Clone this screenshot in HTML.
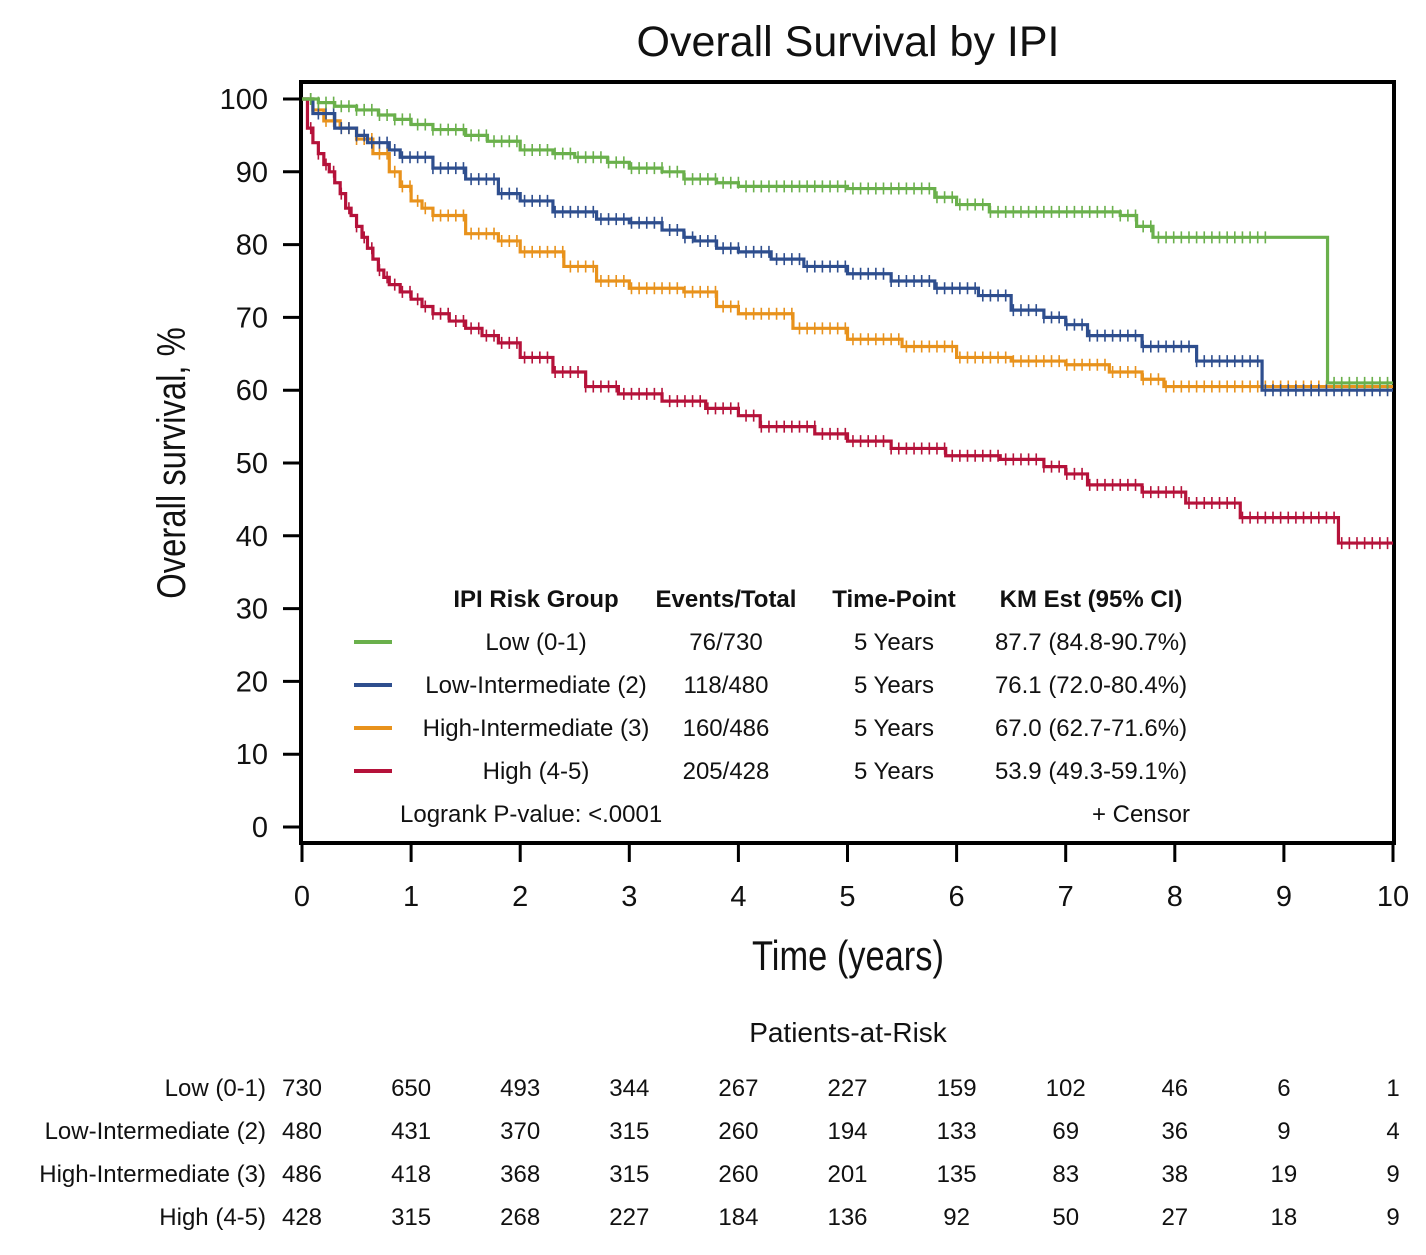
<!DOCTYPE html>
<html><head><meta charset="utf-8">
<style>
html,body{margin:0;padding:0;background:#fff;}
body{width:1426px;height:1250px;overflow:hidden;font-family:"Liberation Sans",sans-serif;}
svg text{font-family:"Liberation Sans",sans-serif;fill:#111;}
</style></head>
<body>
<svg id="chart" width="1426" height="1250" xmlns="http://www.w3.org/2000/svg">
<text x="848" y="56" font-size="43" text-anchor="middle">Overall Survival by IPI</text>
<rect x="301" y="82" width="1093" height="761" fill="none" stroke="#000" stroke-width="4"/>
<g id="axes"></g>
<g id="curves"></g>
<text transform="translate(185,463) rotate(-90) scale(0.82,1)" font-size="40" text-anchor="middle">Overall survival, %</text>
<text transform="translate(848,970) scale(0.82,1)" font-size="42" text-anchor="middle">Time (years)</text>
<g id="legend" font-size="24"></g>
<g id="risk" font-size="24"></g>
</svg>
<script>
const xTicks=[0,1,2,3,4,5,6,7,8,9,10];
const yTicks=[0,10,20,30,40,50,60,70,80,90,100];
const groupNames=["Low (0-1)","Low-Intermediate (2)","High-Intermediate (3)","High (4-5)"];
const groupColors=["#6ab04c","#2e4e8e","#e8921c","#b5123a"];
const eventsTotal=["76/730","118/480","160/486","205/428"];
const kmEst=["87.7 (84.8-90.7%)","76.1 (72.0-80.4%)","67.0 (62.7-71.6%)","53.9 (49.3-59.1%)"];
const lowT=[0,0.15,0.3,0.5,0.7,0.85,1,1.2,1.5,1.7,2,2.3,2.5,2.8,3,3.3,3.5,3.8,4,5,5.8,6,6.3,7.5,7.65,7.8,9.4,10];
const lowS=[100,99.5,99,98.5,97.8,97.2,96.5,95.8,95,94.2,93,92.5,92,91.3,90.5,90,89,88.5,88,87.7,86.5,85.5,84.5,84,82.5,81,61,61];
const liT=[0,0.1,0.3,0.5,0.6,0.8,0.9,1.2,1.5,1.8,2,2.3,2.7,3,3.3,3.5,3.6,3.8,4,4.3,4.6,5,5.4,5.8,6.2,6.5,6.8,7,7.2,7.7,8.2,8.8,10];
const liS=[100,98,96,95,94,93,92,90.5,89,87,86,84.5,83.5,83,82,81,80.5,79.5,79,78,77,76,75,74,73,71,70,69,67.5,66,64,60,60];
const hiT=[0,0.1,0.2,0.35,0.5,0.65,0.8,0.9,1,1.1,1.2,1.5,1.8,2,2.4,2.7,3,3.5,3.8,4,4.5,5,5.5,6,6.5,7,7.4,7.7,7.9,10];
const hiS=[100,98.5,97,96,94.5,92.5,90,88,86,85,84,81.5,80.5,79,77,75,74,73.5,71.5,70.5,68.5,67,66,64.5,64,63.5,62.5,61.5,60.5,60.5];
const hT=[0,0.05,0.1,0.15,0.2,0.25,0.3,0.35,0.4,0.45,0.5,0.55,0.6,0.65,0.7,0.75,0.8,0.9,1,1.1,1.2,1.35,1.5,1.65,1.8,2,2.3,2.6,2.9,3.3,3.7,4,4.2,4.7,5,5.4,5.9,6.4,6.8,7,7.2,7.7,8.1,8.6,9.5,10];
const hS=[100,96,94,92.5,91,90,88.5,87,85,84,82.5,81,79.5,78,76.5,75.5,74.5,73.5,72.5,71.5,70.5,69.5,68.5,67.5,66.5,64.5,62.5,60.5,59.5,58.5,57.5,56.5,55,54,53,52,51,50.5,49.5,48.5,47,46,44.5,42.5,39,39];
const riskLow=[730,650,493,344,267,227,159,102,46,6,1];
const riskLI=[480,431,370,315,260,194,133,69,36,9,4];
const riskHI=[486,418,368,315,260,201,135,83,38,19,9];
const riskHigh=[428,315,268,227,184,136,92,50,27,18,9];

const NS="http://www.w3.org/2000/svg";
const X=t=>302+t*109.1;
const Y=s=>827-s*7.28;
function mk(tag,attrs,parent,txt){const e=document.createElementNS(NS,tag);for(const k in attrs)e.setAttribute(k,attrs[k]);if(txt!==undefined)e.textContent=txt;parent.appendChild(e);return e;}
const axes=document.getElementById('axes');
xTicks.forEach(t=>{
  const l=mk('line',{x1:X(t),x2:X(t),y1:843,y2:862,stroke:'#000','stroke-width':3},axes);
  
  
  const tx=mk('text',{x:X(t),y:906,'font-size':29,'text-anchor':'middle'},axes,String(t));
  
  
});
yTicks.forEach(v=>{
  const l=mk('line',{x1:283,x2:301,y1:Y(v),y2:Y(v),stroke:'#000','stroke-width':3},axes);
  
  
  const tx=mk('text',{x:268,y:Y(v)+10,'font-size':29,'text-anchor':'end'},axes,String(v));
  
  
});
const curves=document.getElementById('curves');
const series=[[lowT,lowS],[liT,liS],[hiT,hiS],[hT,hS]];
const keys=['low','low-intermediate','high-intermediate','high'];
function stepAt(T,S,t){let v=S[0];for(let i=0;i<T.length;i++){if(T[i]<=t)v=S[i];}return v;}
[3,2,1,0].forEach(g=>{
  const [T,S]=series[g];
  let d='M'+X(T[0])+','+Y(S[0]);
  for(let i=1;i<T.length;i++){d+=' H'+X(T[i])+' V'+Y(S[i]);}
  const p=mk('path',{d:d,fill:'none',stroke:groupColors[g],'stroke-width':3.2},curves);
  
  
  const end=T[T.length-1];
  let ticks='';
  for(let t=0.08;t<end;t+=0.07){
    if(g===0&&t>8.9&&t<9.4)continue;
    const y=Y(stepAt(T,S,t));ticks+='M'+X(t)+','+(y-6)+' v12 ';
  }
  const c=mk('path',{d:ticks,stroke:groupColors[g],'stroke-width':1.6,fill:'none'},curves);
  
  
});
const lg=document.getElementById('legend');
const hdr=[[536,'IPI Risk Group'],[726,'Events/Total'],[894,'Time-Point'],[1091,'KM Est (95% CI)']];
hdr.forEach(h=>{const e=mk('text',{x:h[0],y:607,'text-anchor':'middle','font-weight':'bold'},lg,h[1]);
  
  });
groupNames.forEach((n,i)=>{
  const y=650+i*43;
  const l=mk('line',{x1:354,x2:392,y1:y-8,y2:y-8,stroke:groupColors[i],'stroke-width':4},lg);
  
  
  [[536,n],[726,eventsTotal[i]],[894,'5 Years'],[1091,kmEst[i]]].forEach(c=>{
    const e=mk('text',{x:c[0],y:y,'text-anchor':'middle'},lg,c[1]);
    
    
  });
});
const lr=mk('text',{x:400,y:822},lg,'Logrank P-value: <.0001');


const cs=mk('text',{x:1190,y:822,'text-anchor':'end'},lg,'+ Censor');


const rk=document.getElementById('risk');
const rt=mk('text',{x:848,y:1042,'text-anchor':'middle','font-size':28},rk,'Patients-at-Risk');


[riskLow,riskLI,riskHI,riskHigh].forEach((row,i)=>{
  const y=1096+i*43;
  const lab=mk('text',{x:266,y:y,'text-anchor':'end'},rk,groupNames[i]);
  
  
  row.forEach((v,j)=>{
    const e=mk('text',{x:X(xTicks[j]),y:y,'text-anchor':'middle'},rk,String(v));
    
    
  });
});
</script>
</body></html>
